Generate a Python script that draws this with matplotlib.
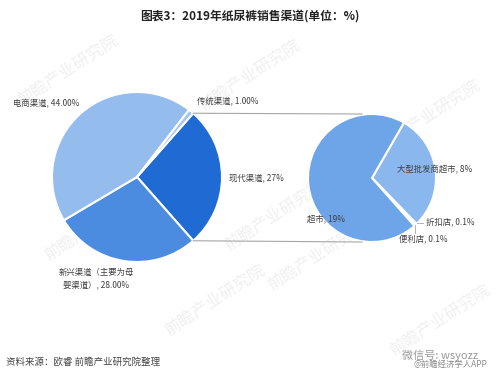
import numpy as np
import matplotlib
matplotlib.use("Agg")
import matplotlib.pyplot as plt

plt.rcParams['font.family'] = ['Noto Sans CJK SC', 'DejaVu Sans']

# Main pie: sales channels (the 现代渠道 slice is broken down in the second pie)
main_names = ['现代渠道', '新兴渠道（主要为母\n婴渠道）', '电商渠道', '传统渠道']
main_values = [27, 28, 44, 1]
main_decimals = [0, 2, 2, 2]
main_colors = ['#1F6BD3', '#4B8CE0', '#94BCEC', '#A3C6F0']

# Secondary pie: breakdown of 现代渠道
sub_names = ['大型批发商超市', '折扣店', '便利店', '超市']
sub_values = [8, 0.1, 0.1, 19]
sub_decimals = [0, 1, 1, 0]
sub_colors = ['#8AB7EE', '#7FAEEB', '#7FAEEB', '#6EA4E8']

title = '图表3：2019年纸尿裤销售渠道(单位：%)'
source = '资料来源：欧睿 前瞻产业研究院整理'

W, H = 500, 379
fig = plt.figure(figsize=(W / 100, H / 100), dpi=100)
ax = fig.add_axes([0, 0, 1, 1])


def py(y):
    # pixel row (from top) -> data y
    return H - y


def fmt(name, val, dec):
    return f'{name}, {val:.{dec}f}%'


# faint tiled watermark
for (wx, wy) in [(68, 70), (250, 75), (430, 115), (95, 225), (275, 215),
                 (318, 255), (440, 320), (215, 300)]:
    ax.text(wx, py(wy), '前瞻产业研究院', fontsize=12, color='#F0F0F0',
            rotation=33, ha='center', va='center', zorder=0)

c1 = (137, py(177))
r1 = 85
c2 = (372, py(178))
r2 = 64
start1 = 360 * main_values[0] / sum(main_values) / 2

ax.pie(main_values, center=c1, radius=r1, startangle=start1, counterclock=False,
       colors=main_colors, wedgeprops=dict(edgecolor='white', linewidth=1.5),
       frame=True)
ax.pie(sub_values, center=c2, radius=r2, startangle=60, counterclock=False,
       colors=sub_colors, wedgeprops=dict(edgecolor='white', linewidth=1.5),
       frame=True)

# connector lines between the two pies
a = np.deg2rad(start1)
for s in (1, -1):
    x0 = c1[0] + r1 * np.cos(a)
    y0 = c1[1] + s * r1 * np.sin(a)
    x1 = c2[0] - 10
    y1 = c2[1] + s * r2
    ax.plot([x0, x1], [y0, y1], color='#A6A6A6', lw=0.8, zorder=1)

lab_kw = dict(fontsize=6, color='#404040', va='center')
ax.text(13, py(104), fmt(main_names[2], main_values[2], main_decimals[2]), ha='left', **lab_kw)
ax.text(197, py(101), fmt(main_names[3], main_values[3], main_decimals[3]), ha='left', **lab_kw)
ax.text(229, py(178), fmt(main_names[0], main_values[0], main_decimals[0]), ha='left', **lab_kw)
ax.text(96, py(278.5), fmt(main_names[1], main_values[1], main_decimals[1]), ha='center',
        linespacing=1.5, **lab_kw)

ax.text(397, py(170), fmt(sub_names[0], sub_values[0], sub_decimals[0]), ha='left', **lab_kw)
ax.text(426, py(222), fmt(sub_names[1], sub_values[1], sub_decimals[1]), ha='left', **lab_kw)
ax.text(399, py(240), fmt(sub_names[2], sub_values[2], sub_decimals[2]), ha='left', **lab_kw)
ax.text(307, py(219), fmt(sub_names[3], sub_values[3], sub_decimals[3]), ha='left', **lab_kw)

# leader lines for the tiny slices
ax.plot([417, 423], [py(223), py(223)], color='#A6A6A6', lw=0.6)
ax.plot([415, 415], [py(225), py(233)], color='#A6A6A6', lw=0.6)

ax.text(250, py(16), title, fontsize=8.5, fontweight='bold', color='#222222',
        ha='center', va='center')
ax.text(6, py(362), source, fontsize=6.8, color='#444444', ha='left', va='center')

ax.text(402, py(355), '微信号: wsyozz', fontsize=8, color='#9A9A9A', ha='left', va='center')
ax.text(414, py(364), '@前瞻经济学人APP', fontsize=6, color='#8A8A8A', ha='left', va='center')

ax.set_xlim(0, W)
ax.set_ylim(0, H)
ax.set_aspect('equal')
ax.axis('off')

fig.savefig('out.png', dpi=100, facecolor='white')
